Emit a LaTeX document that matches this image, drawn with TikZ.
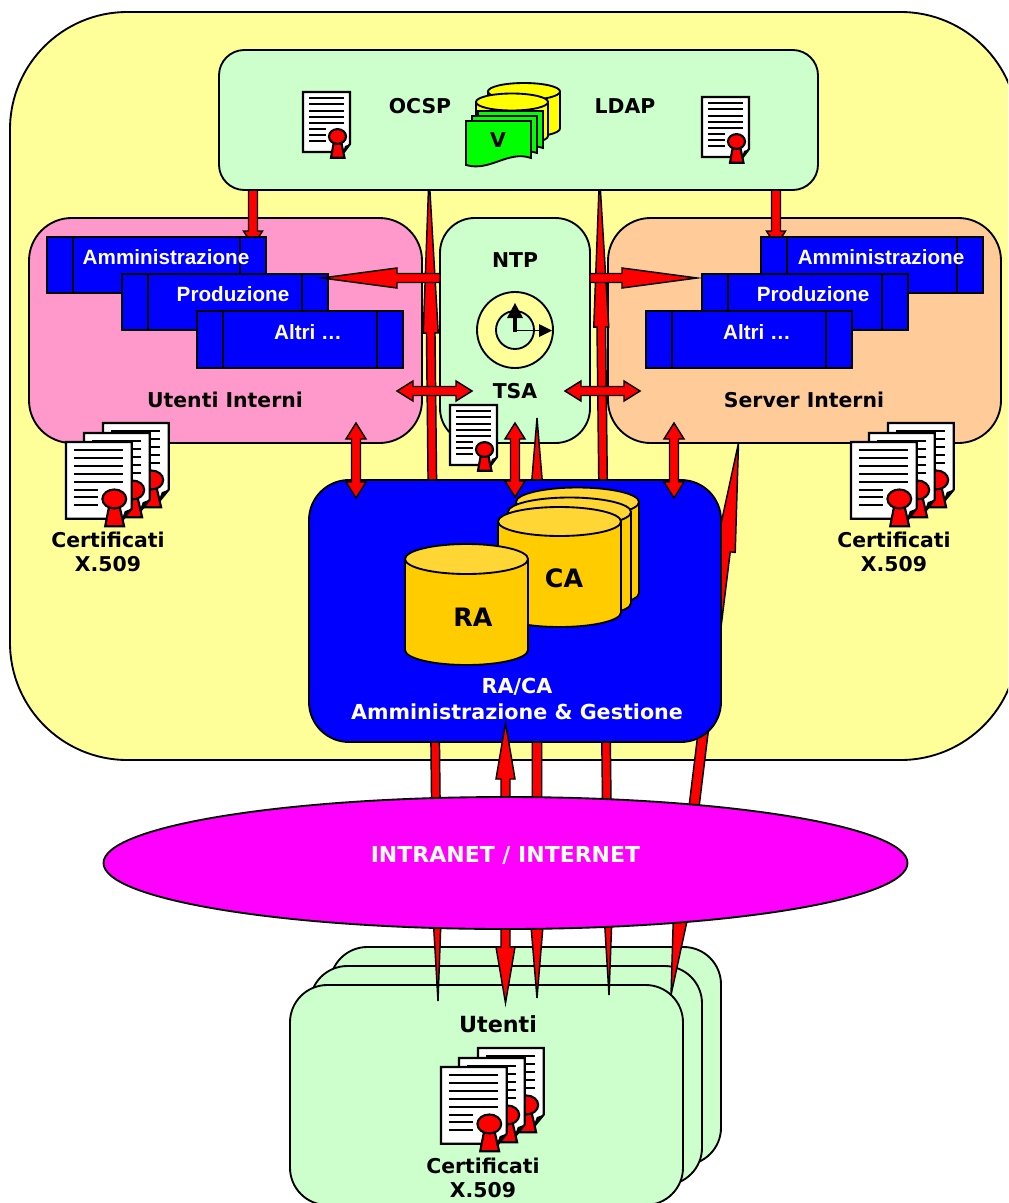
\documentclass[tikz,border=0pt]{standalone}
\usepackage{fontspec}
\setmainfont{DejaVu Sans}
\newfontfamily\boxfont{Liberation Sans}
\usetikzlibrary{calc}

\definecolor{bgyellow}{HTML}{FFFF99}
\definecolor{mintbox}{HTML}{CCFFCC}
\definecolor{pinkbox}{HTML}{FF99CC}
\definecolor{peachbox}{HTML}{FFCC99}
\definecolor{goldside}{HTML}{FFCC00}
\definecolor{goldtop}{HTML}{FFD633}
\definecolor{netmagenta}{HTML}{FF00FF}
\definecolor{docgreen}{HTML}{00FF00}
\definecolor{drumyellow}{HTML}{FFFF00}

\tikzset{
  panel/.style={draw=black, line width=1.4pt},
  lbl/.style={font=\bfseries\fontsize{15.3}{18}\selectfont, inner sep=0pt, align=center},
  whitelbl/.style={lbl, text=white},
  boxlbl/.style={font=\boxfont\bfseries\fontsize{15.5}{18}\selectfont, inner sep=0pt, text=white},
  redarrow/.style={fill=red, draw=black, line width=1.1pt, line join=miter},
  certdoc/.pic={
    \draw[fill=white, line width=1.6pt] (0,0) -- (47,0) -- (47,52) -- (41,60) -- (0,60) -- cycle;
    \fill (47,52) -- (42,54) -- (40,60) -- cycle;
    \foreach \ly in {6,12.3,19,25,31} \draw[line width=1.5pt] (6,\ly) -- (41,\ly);
    \foreach \ly in {37.3,43.3,49.3} \draw[line width=1.5pt] (6,\ly) -- (23,\ly);
    \draw[fill=red, line width=1.6pt] (31,49) -- (28,65.8) -- (41.5,65.8) -- (38,49) -- cycle;
    \draw[fill=red, line width=1.6pt] (34.5,44.5) ellipse [x radius=8.5, y radius=7.4];
  }
}

% double headed block arrow between two named coordinates
\newcommand{\bothways}[5]{
  \coordinate (p1) at ($(#1)!#5*0.75pt!(#2)$);
  \coordinate (p2) at ($(#2)!#5*0.75pt!(#1)$);
  \draw[redarrow] (#1) -- ($(p1)!#4*0.375pt!90:(#2)$) -- ($(p1)!#3*0.375pt!90:(#2)$)
    -- ($(p2)!#3*0.375pt!90:(#2)$) -- ($(p2)!#4*0.375pt!90:(#2)$) -- (#2)
    -- ($(p2)!#4*0.375pt!-90:(#2)$) -- ($(p2)!#3*0.375pt!-90:(#2)$)
    -- ($(p1)!#3*0.375pt!-90:(#2)$) -- ($(p1)!#4*0.375pt!-90:(#2)$) -- cycle;
}
% single headed one, head at the second coordinate
\newcommand{\oneway}[5]{
  \coordinate (p2) at ($(#2)!#5*0.75pt!(#1)$);
  \draw[redarrow] ($(#1)!#3*0.375pt!90:(#2)$) -- ($(p2)!#3*0.375pt!90:(#2)$)
    -- ($(p2)!#4*0.375pt!90:(#2)$) -- (#2) -- ($(p2)!#4*0.375pt!-90:(#2)$)
    -- ($(p2)!#3*0.375pt!-90:(#2)$) -- ($(#1)!#3*0.375pt!-90:(#2)$) -- cycle;
}
\newcommand{\procbox}[4]{
  \draw[panel, fill=blue] (#1,#2) rectangle (#3,#4);
  \draw[panel] (#1+26,#2) -- (#1+26,#4);
  \draw[panel] (#3-26,#2) -- (#3-26,#4);
}
\newcommand{\certstack}[2]{
  \pic[xscale=1.4, yscale=1.28] at (#1+37,#2-19) {certdoc};
  \pic[xscale=1.4, yscale=1.28] at (#1+18,#2-9) {certdoc};
  \pic[xscale=1.4, yscale=1.28] at (#1,#2) {certdoc};
}
\newcommand{\drum}[7]{
  \draw[panel, fill=#6] (#1-#3,#2) -- (#1-#3,#2+#4) arc [start angle=180, end angle=0, x radius=#3, y radius=#5] -- (#1+#3,#2) -- cycle;
  \draw[panel, fill=#7] (#1,#2) ellipse [x radius=#3, y radius=#5];
}

\begin{document}
\begin{tikzpicture}[x=0.75pt, y=-0.75pt]
  \useasboundingbox (0,0) rectangle (1008,1203);
  \clip (0,0) rectangle (1008,1203);
  \fill[white] (0,0) rectangle (1008,1203);

  % big yellow area
  \draw[panel, fill=bgyellow, rounded corners=88pt] (10,12) rectangle (1018,760);

  % users at the bottom
  \draw[panel, fill=mintbox, rounded corners=28pt] (330,947) rectangle (721,1165);
  \draw[panel, fill=mintbox, rounded corners=28pt] (310,966) rectangle (702,1185);
  \draw[panel, fill=mintbox, rounded corners=28pt] (290,985) rectangle (683,1205);

  % middle row
  \draw[panel, fill=pinkbox, rounded corners=32pt] (29,218) rectangle (422,443);
  \draw[panel, fill=peachbox, rounded corners=32pt] (608,218) rectangle (1001,443);
  \draw[panel, fill=mintbox, rounded corners=26pt] (440,218) rectangle (590,443);

  % long arrows
  \coordinate (spikeAtop) at (429,175);
  \coordinate (spikeAend) at (438,1001);
  \coordinate (spikeBtop) at (599.5,175);
  \coordinate (spikeBend) at (609,995);
  \coordinate (spikeCtop) at (537,418);
  \coordinate (spikeCend) at (537,998);
  \coordinate (spikeDtop) at (738.5,443);
  \coordinate (spikeDend) at (671,995);
  \bothways{spikeAtop}{spikeAend}{8.5}{15}{158}
  \bothways{spikeBtop}{spikeBend}{8.5}{15}{152}
  \bothways{spikeCtop}{spikeCend}{9.5}{20}{120}
  \bothways{spikeDtop}{spikeDend}{10}{20}{109}

  % top panel
  \coordinate (topL) at (253,185);
  \coordinate (topLend) at (253,246);
  \coordinate (topR) at (776,185);
  \coordinate (topRend) at (776,246);
  \oneway{topL}{topLend}{9}{19}{15}
  \oneway{topR}{topRend}{9}{19}{15}
  \draw[panel, fill=mintbox, rounded corners=19pt] (219,50) rectangle (818,190);
  \pic at (303,92) {certdoc};
  \pic at (702,97) {certdoc};
  \node[lbl] (ocsp) at (420,106) {OCSP};
  \node[lbl] (ldap) at (625,106) {LDAP};
  \drum{524}{91.5}{36}{37}{8.5}{drumyellow}{drumyellow}
  \drum{512}{102}{36}{34}{8.5}{drumyellow}{drumyellow}
  \foreach \sx/\sy in {12/-10,6/-5,0/0}
    \draw[panel, fill=docgreen] (466+\sx,121+\sy) -- (531+\sx,121+\sy) -- (531+\sx,158+\sy)
      .. controls (508+\sx,150+\sy) and (490+\sx,172+\sy) .. (466+\sx,165+\sy) -- cycle;
  \node[lbl] (vlabel) at (498,140) {V};

  % process boxes on the left
  \procbox{47}{237}{266}{293}
  \procbox{122}{274}{328}{330}
  \procbox{197}{311}{403}{368}
  \node[boxlbl] (ammL) at (166,257) {Amministrazione};
  \node[boxlbl] (prodL) at (233,294) {Produzione};
  \node[boxlbl] (altriL) at (308,332) {Altri \dots};
  % and on the right
  \procbox{761}{237}{983}{293}
  \procbox{702}{274}{908}{330}
  \procbox{646}{311}{852}{368}
  \node[boxlbl] (ammR) at (881,257) {Amministrazione};
  \node[boxlbl] (prodR) at (813,294) {Produzione};
  \node[boxlbl] (altriR) at (757,332) {Altri \dots};

  \node[lbl] (intL) at (225,400) {Utenti Interni};
  \node[lbl] (intR) at (804,400) {Server Interni};
  \node[lbl] (ntp) at (515,260) {NTP};
  \node[lbl] (tsa) at (515,391) {TSA};

  % clock
  \draw[panel, fill=bgyellow] (515,330) circle [radius=38];
  \draw[panel, fill=mintbox] (515,330) circle [radius=19];
  \draw[line width=1.2pt] (515,330.5) -- (540,330.5);
  \fill (552,330.5) -- (539,324) -- (539,337) -- cycle;
  \draw[line width=2.8pt] (515,332) -- (515,315);
  \fill (515,303) -- (507,318) -- (523,318) -- cycle;

  % blue panel
  \draw[panel, fill=blue, rounded corners=30pt] (309,480) rectangle (721,742);
  \drum{577.5}{502}{61.5}{91}{14.5}{goldside}{goldtop}
  \drum{569.5}{512}{61.5}{91}{14.5}{goldside}{goldtop}
  \drum{559.5}{521.5}{61.5}{91}{14.5}{goldside}{goldtop}
  \drum{466.5}{559}{61.5}{91}{15}{goldside}{goldtop}
  \node[lbl, font=\bfseries\fontsize{19}{22}\selectfont] (calabel) at (564,578) {CA};
  \node[lbl, font=\bfseries\fontsize{19}{22}\selectfont] (ralabel) at (473,617) {RA};
  \node[whitelbl, font=\bfseries\fontsize{15.5}{19.5}\selectfont] (ralabel2) at (517,699) {RA/CA\\Amministrazione \& Gestione};

  % arrow through the network, then the network
  \coordinate (netTop) at (505.5,723);
  \coordinate (netEnd) at (505.5,1003);
  \bothways{netTop}{netEnd}{9}{19}{56}
  \draw[panel, fill=netmagenta] (505.5,863) ellipse [x radius=402, y radius=66];
  \node[whitelbl, font=\bfseries\fontsize{16.5}{19}\selectfont] (net) at (505.5,855) {INTRANET / INTERNET};

  % short arrows
  \coordinate (ntpL) at (440,278);
  \coordinate (ntpLend) at (322,278);
  \coordinate (ntpR) at (590,278);
  \coordinate (ntpRend) at (697,278);
  \oneway{ntpL}{ntpLend}{9}{20}{75}
  \oneway{ntpR}{ntpRend}{9}{20}{75}
  \coordinate (tsaLa) at (397,391);
  \coordinate (tsaLb) at (472,391);
  \coordinate (tsaRa) at (565,391);
  \coordinate (tsaRb) at (640,391);
  \bothways{tsaLa}{tsaLb}{9}{20}{16}
  \bothways{tsaRa}{tsaRb}{9}{20}{16}
  \coordinate (caLa) at (356,423);
  \coordinate (caLb) at (356,498);
  \coordinate (caMa) at (515,423);
  \coordinate (caMb) at (515,497);
  \coordinate (caRa) at (674,423);
  \coordinate (caRb) at (674,498);
  \bothways{caLa}{caLb}{9}{20}{16}
  \bothways{caRa}{caRb}{9}{20}{16}
  \pic at (450,405) {certdoc};
  \bothways{caMa}{caMb}{9}{20}{16}

  % certificates
  \certstack{66}{442}
  \certstack{851}{442}
  \certstack{441}{1067}
  \node[lbl] (certL) at (108,552) {Certificati\\X.509};
  \node[lbl] (certR) at (894,552) {Certificati\\X.509};
  \node[lbl, font=\bfseries\fontsize{16.7}{20}\selectfont] (utenti) at (498,1024) {Utenti};
  \node[lbl] (certU) at (483,1178) {Certificati\\X.509};
\end{tikzpicture}
\end{document}
